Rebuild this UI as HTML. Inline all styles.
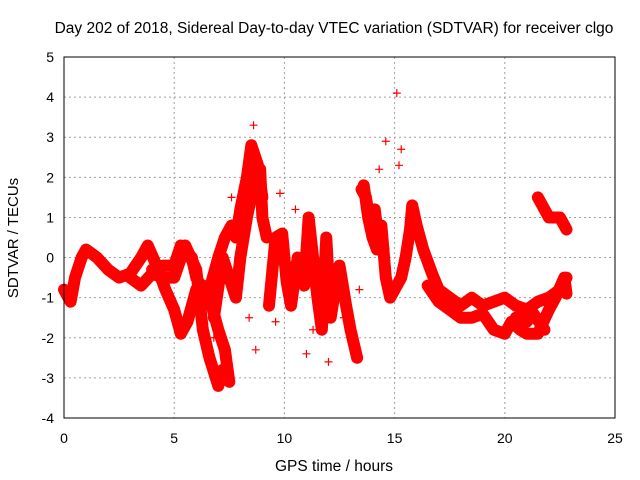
<!DOCTYPE html>
<html><head><meta charset="utf-8"><style>
body{margin:0;background:#fff;}
svg{display:block;font-family:"Liberation Sans",sans-serif;}
</style></head><body>
<svg id="chart" width="640" height="480">
<text x="334" y="33" font-size="15.5" text-anchor="middle">Day 202 of 2018, Sidereal Day-to-day VTEC variation (SDTVAR) for receiver clgo</text>
<text x="334" y="471" font-size="15.5" text-anchor="middle">GPS time / hours</text>
<text transform="translate(18,238) rotate(-90)" font-size="15" text-anchor="middle">SDTVAR / TECUs</text>
<g id="grid"></g><g id="marks"></g>
<rect x="64" y="57" width="551" height="361" fill="none" stroke="#000" stroke-width="1"/>
</svg>
<script>
const xTicks=[0,5,10,15,20,25];
const yTicks=[-4,-3,-2,-1,0,1,2,3,4,5];
const trackA=[[0,-0.8],[0.3,-1.1],[0.5,-0.5],[0.8,0],[1.0,0.2],[1.5,0],[2,-0.3],[2.5,-0.5],[3,-0.4],[3.5,0],[3.8,0.3],[4.2,-0.2],[4.6,-0.8],[5,-1.3],[5.3,-1.9],[5.6,-1.6],[6,-0.8],[6.3,-0.7],[6.7,-1.2],[7,-1.8],[7.3,-2.3],[7.5,-3.1]];
const trackB=[[3,-0.5],[3.5,-0.7],[4,-0.4],[4.5,-0.5],[5,-0.5],[5.5,0.3],[6,-0.3],[6.3,-1.8],[6.6,-2.5],[7,-3.2],[7.2,-2.8]];
const trackC=[[4,-0.3],[4.5,-0.2],[5,-0.2],[5.3,0.3],[5.8,0],[6,-0.5],[6.5,-1.0],[7,0],[7.3,0.5],[7.6,0.8],[7.8,0.5],[8,1.2],[8.3,2],[8.5,2.8],[8.8,2.3],[9,1.5]];
const trackD=[[6.8,-1.5],[7.2,0],[7.5,-0.5],[7.8,-1],[8.0,0],[8.3,1],[8.6,1.8],[8.9,2.2],[9,1.0],[9.2,0.5]];
const trackE=[[9.3,-1.2],[9.6,0.5],[9.9,0.6],[10.1,-0.6],[10.3,-1.2],[10.6,0],[10.8,-0.3]];
const trackF=[[10.9,-0.7],[11.1,1.0],[11.3,0.0],[11.5,-1.0],[11.7,-1.8],[11.9,0.5],[12.1,-1.5],[12.3,-0.8],[12.5,-0.2],[12.8,-1.2],[13,-1.8],[13.3,-2.5]];
const trackG=[[13.6,1.8],[13.8,1.0],[14,0.5],[14.2,0.2],[14.4,0.8],[14.6,-0.5],[14.8,-1],[15,-0.8],[15.3,-0.5],[15.5,0.0],[15.7,0.7],[15.8,1.3],[16,0.8],[16.3,0.2],[16.7,-0.4],[17,-0.8],[17.5,-1.0],[18,-1.2],[18.5,-1.0],[19,-1.2],[19.5,-1.1],[20,-1.0],[20.5,-1.2],[21,-1.3],[21.5,-1.1],[22,-1.0],[22.5,-0.8],[22.8,-0.5]];
const trackH=[[16.5,-0.7],[17,-1.1],[17.5,-1.3],[18,-1.5],[18.5,-1.5],[19,-1.4],[19.5,-1.8],[20,-1.9],[20.3,-1.6],[20.7,-1.8],[21,-1.9],[21.5,-1.9],[22,-1.3],[22.3,-1.0],[22.7,-0.5],[22.8,-0.9]];
const trackI=[[20.5,-1.5],[21,-1.6],[21.3,-1.4],[21.8,-1.8]];
const trackJ=[[21.5,1.5],[21.8,1.2],[22,1.0],[22.5,1.0],[22.8,0.7]];
const trackL=[[13.5,1.7],[13.7,1.5],[13.9,0.8],[14.1,1.2],[14.3,0.3],[14.5,0.2]];
const outliers=[[15.1,4.1],[14.6,2.9],[15.3,2.7],[8.6,3.3],[8.7,-2.3],[12.0,-2.6],[11.0,-2.4],[9.8,1.6],[13.4,-0.8],[8.4,-1.5],[9.6,-1.6],[10.5,1.2],[11.3,-1.8],[14.3,2.2],[15.2,2.3],[12.7,-1.5],[7.6,1.5],[6.8,-2.0],[5.4,-1.8]];
const tracks=[trackA,trackB,trackC,trackD,trackE,trackF,trackG,trackH,trackI,trackJ,trackL];
const NS='http://www.w3.org/2000/svg';
function sx(h){return 64+h*(551/25);}
function sy(v){return 57+(5-v)*(361/9);}
const grid=document.getElementById('grid'),marks=document.getElementById('marks');
xTicks.forEach(t=>{
 const l=document.createElementNS(NS,'line');
 
 
 l.setAttribute('x1',sx(t));l.setAttribute('x2',sx(t));l.setAttribute('y1',57);l.setAttribute('y2',418);
 l.setAttribute('stroke','#a0a0a0');l.setAttribute('stroke-dasharray','2,3');grid.appendChild(l);
 const tx=document.createElementNS(NS,'text');
 
 
 tx.setAttribute('x',sx(t));tx.setAttribute('y',443);tx.setAttribute('font-size','14');tx.setAttribute('text-anchor','middle');
 tx.textContent=t;grid.appendChild(tx);
});
yTicks.forEach(t=>{
 const l=document.createElementNS(NS,'line');
 
 
 l.setAttribute('x1',64);l.setAttribute('x2',615);l.setAttribute('y1',sy(t));l.setAttribute('y2',sy(t));
 l.setAttribute('stroke','#a0a0a0');l.setAttribute('stroke-dasharray','2,3');grid.appendChild(l);
 const tx=document.createElementNS(NS,'text');
 
 
 tx.setAttribute('x',54);tx.setAttribute('y',sy(t)+5);tx.setAttribute('font-size','14');tx.setAttribute('text-anchor','end');
 tx.textContent=t;grid.appendChild(tx);
});
tracks.forEach(tr=>{
 const p=document.createElementNS(NS,'polyline');
 
 
 p.setAttribute('points',tr.map(d=>sx(d[0])+','+sy(d[1])).join(' '));
 p.setAttribute('fill','none');p.setAttribute('stroke','#ff0000');p.setAttribute('stroke-width','12');p.setAttribute('stroke-linejoin','round');p.setAttribute('stroke-linecap','round');
 marks.appendChild(p);
});
tracks.concat([outliers]).forEach(tr=>tr.forEach(d=>{
 const x=sx(d[0]),y=sy(d[1]);
 const m=document.createElementNS(NS,'path');
 
 
 m.setAttribute('d','M'+(x-4)+' '+y+'H'+(x+4)+'M'+x+' '+(y-4)+'V'+(y+4));
 m.setAttribute('stroke','#ff0000');m.setAttribute('stroke-width','1.2');
 marks.appendChild(m);
}));
</script>
</body></html>
